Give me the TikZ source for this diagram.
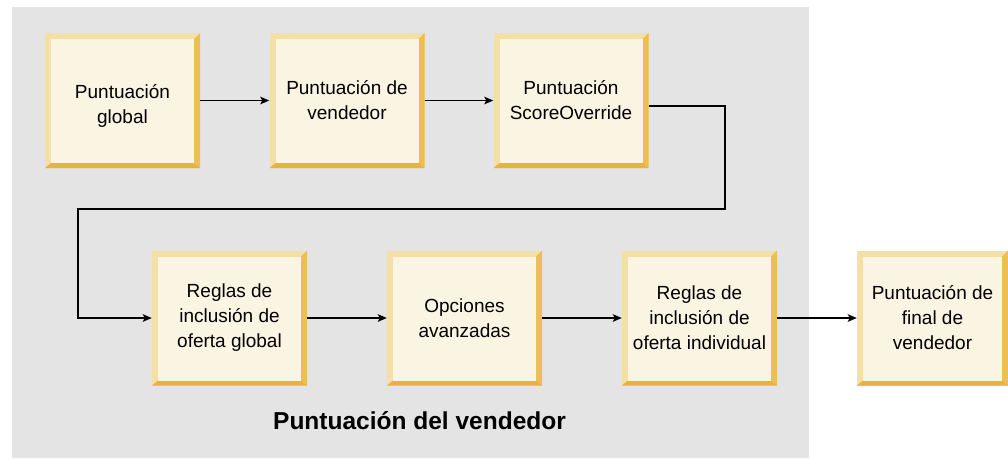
\documentclass[tikz,border=0pt]{standalone}
\usepackage{fontspec}
\setmainfont{Liberation Sans}
\usetikzlibrary{arrows.meta,calc}
\definecolor{bggray}{HTML}{E4E4E4}
\definecolor{bvlight}{HTML}{F4DFA6}
\definecolor{bvright}{HTML}{EBBE56}
\definecolor{bvbottom}{HTML}{E9B23B}
\definecolor{bvinner}{HTML}{FAF4E2}
\tikzset{
  stagebox/.style={minimum width=155pt, minimum height=135pt, inner sep=0pt, align=center,
    font=\fontsize{19}{25}\selectfont, text=black, fill=bvlight,
    path picture={
      \fill[bvright] (path picture bounding box.north east) -- (path picture bounding box.south east)
        -- ([shift={(-6pt,5pt)}]path picture bounding box.south east)
        -- ([shift={(-6pt,-6pt)}]path picture bounding box.north east) -- cycle;
      \fill[bvbottom] (path picture bounding box.south west) -- (path picture bounding box.south east)
        -- ([shift={(-6pt,5pt)}]path picture bounding box.south east)
        -- ([shift={(6pt,5pt)}]path picture bounding box.south west) -- cycle;
      \fill[bvinner] ([shift={(6pt,5pt)}]path picture bounding box.south west)
        rectangle ([shift={(-6pt,-6pt)}]path picture bounding box.north east);
    }},
  flow/.style={line width=1.8pt, -{Stealth[length=9pt,width=7.5pt,inset=2pt]}},
  titletext/.style={font=\fontsize{24.5}{29}\selectfont\bfseries, inner sep=0pt, anchor=base}
}
\begin{document}
\begin{tikzpicture}[x=1pt,y=-1pt]
\useasboundingbox (0,0) rectangle (1008,458);
\fill[bggray] (12,7) rectangle (809,458);
\node[stagebox] (b1) at (122.5,100.5) {\mbox{}\\Puntuación\\global};
\node[stagebox] (b2) at (347,100.5) {Puntuación de\\vendedor};
\node[stagebox] (b3) at (571,100.5) {Puntuación\\ScoreOverride};
\node[stagebox] (b4) at (229.5,318) {Reglas de\\inclusión de\\oferta global};
\node[stagebox] (b5) at (464.5,318) {Opciones\\avanzadas};
\node[stagebox] (b6) at (699.5,318) {Reglas de\\inclusión de\\oferta individual};
\node[stagebox, minimum width=151pt] (b7) at (932.5,318) {Puntuación de\\final de\\vendedor};
\node[titletext] (title) at (419.5,429) {Puntuación del vendedor};
\coordinate (c1) at ($(b3.east)+(0,5.5)$);
\coordinate (c2) at (725,106);
\coordinate (c3) at (725,209);
\coordinate (c4) at (78,209);
\coordinate (c5) at (78,318);
\draw[flow] (b1.east) -- (b2.west);
\draw[flow] (b2.east) -- (b3.west);
\draw[flow] (c1) -- (c2) -- (c3) -- (c4) -- (c5) -- (b4.west);
\draw[flow] (b4.east) -- (b5.west);
\draw[flow] (b5.east) -- (b6.west);
\draw[flow] (b6.east) -- (b7.west);
\end{tikzpicture}
\end{document}
